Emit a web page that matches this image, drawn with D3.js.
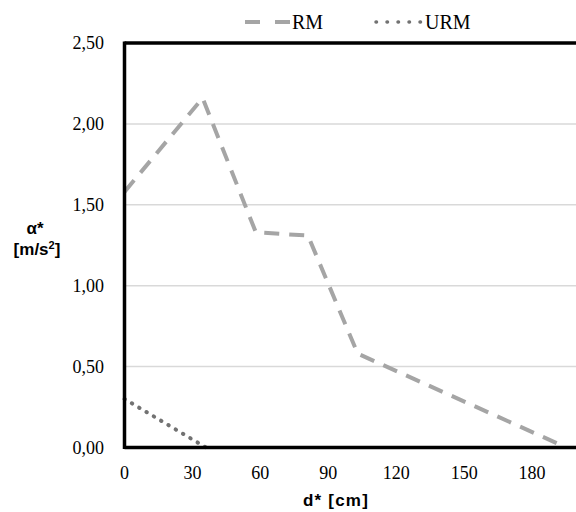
<!DOCTYPE html>
<html lang="en">
<head>
<meta charset="utf-8">
<script src="https://d3js.org/d3.v7.min.js"></script>
<style>
  body { margin: 0; background: #fff; }
  .tick-label { font-family: "Liberation Serif", "Times New Roman", serif; font-size: 18px; fill: #000; }
  .legend-label { font-family: "Liberation Serif", "Times New Roman", serif; font-size: 20px; fill: #000; }
  .axis-title { font-family: "Liberation Sans", Arial, sans-serif; font-weight: bold; fill: #000; }
</style>
</head>
<body>
<svg width="576" height="512"></svg>
<script>
// data
var xTicks = [0, 30, 60, 90, 120, 150, 180];
var yTicks = [0, 0.5, 1.0, 1.5, 2.0, 2.5];
var rmX = [0, 34.5, 58, 81, 103, 192];
var rmY = [1.58, 2.16, 1.33, 1.31, 0.58, 0.02];
var urmX = [0, 36];
var urmY = [0.30, 0.0];
var seriesNames = ["RM", "URM"];

var svg = d3.select("svg");

var x = d3.scaleLinear().domain([0, 210]).range([124.5, 600]);
var y = d3.scaleLinear().domain([0, 2.5]).range([447.5, 43]);

var fmt = function(v) { return d3.format(".2f")(v).replace(".", ","); };

// gridlines
svg.append("g").selectAll("line")
  .data(yTicks.filter(function(d) { return d > 0 && d < 2.5; }))
  .enter().append("line")
  .attr("x1", x(0)).attr("x2", 576)
  .attr("y1", function(d) { return y(d); })
  .attr("y2", function(d) { return y(d); })
  .attr("stroke", "#d9d9d9")
  .attr("stroke-width", 1.5);

// lines
var line = d3.line()
  .x(function(d) { return x(d[0]); })
  .y(function(d) { return y(d[1]); });

svg.append("path")
  .datum(rmX.map(function(d, i) { return [d, rmY[i]]; }))
  .attr("d", line)
  .attr("fill", "none")
  .attr("stroke", "#a5a5a5")
  .attr("stroke-width", 4)
  .attr("stroke-dasharray", "15,10");

svg.append("path")
  .datum(urmX.map(function(d, i) { return [d, urmY[i]]; }))
  .attr("d", line)
  .attr("fill", "none")
  .attr("stroke", "#727272")
  .attr("stroke-width", 4)
  .attr("stroke-linecap", "round")
  .attr("stroke-dasharray", "0.5,8");

// frame: left, bottom, top
svg.append("line").attr("x1", x(0)).attr("x2", x(0)).attr("y1", y(2.5) - 1.5).attr("y2", y(0) + 1.5)
  .attr("stroke", "#000").attr("stroke-width", 3.5);
svg.append("line").attr("x1", x(0)).attr("x2", 576).attr("y1", y(0)).attr("y2", y(0))
  .attr("stroke", "#000").attr("stroke-width", 3.5);
svg.append("line").attr("x1", x(0)).attr("x2", 576).attr("y1", y(2.5)).attr("y2", y(2.5))
  .attr("stroke", "#000").attr("stroke-width", 3.5);

// tick labels
svg.append("g").selectAll("text")
  .data(yTicks).enter().append("text")
  .attr("class", "tick-label")
  .attr("x", 104)
  .attr("y", function(d) { return y(d) + 6; })
  .attr("text-anchor", "end")
  .text(fmt);

svg.append("g").selectAll("text")
  .data(xTicks).enter().append("text")
  .attr("class", "tick-label")
  .attr("x", function(d) { return x(d); })
  .attr("y", 479)
  .attr("text-anchor", "middle")
  .text(function(d) { return d; });

// axis titles
svg.append("text").attr("class", "axis-title")
  .attr("x", 336).attr("y", 506)
  .attr("text-anchor", "middle")
  .style("font-size", "17px")
  .style("letter-spacing", "1.2px")
  .text("d* [cm]");

var yt = svg.append("text").attr("class", "axis-title")
  .attr("text-anchor", "middle")
  .style("font-size", "17px");
yt.append("tspan").attr("x", 35).attr("y", 234).text("α*");
var t2 = yt.append("tspan").attr("x", 37).attr("y", 255).text("[m/s");
t2.append("tspan").attr("dy", -6).style("font-size", "11px").text("2");
t2.append("tspan").attr("dy", 6).text("]");

// legend
svg.append("line").attr("x1", 245).attr("x2", 291).attr("y1", 22).attr("y2", 22)
  .attr("stroke", "#a5a5a5").attr("stroke-width", 4).attr("stroke-dasharray", "15,15");
svg.append("text").attr("class", "legend-label").attr("x", 292).attr("y", 29).text(seriesNames[0]);

svg.append("line").attr("x1", 376).attr("x2", 421).attr("y1", 22).attr("y2", 22)
  .attr("stroke", "#727272").attr("stroke-width", 3.5).attr("stroke-linecap", "round")
  .attr("stroke-dasharray", "0.5,10.5");
svg.append("text").attr("class", "legend-label").attr("x", 425).attr("y", 29).text(seriesNames[1]);
</script>
</body>
</html>
